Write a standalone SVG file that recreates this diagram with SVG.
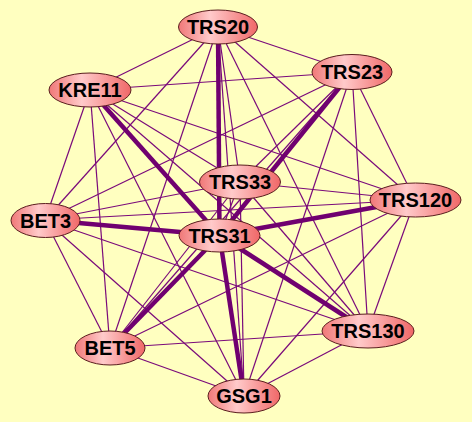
<svg xmlns="http://www.w3.org/2000/svg" width="472" height="422" viewBox="0 0 472 422">
<defs>
<linearGradient id="g" x1="0" y1="0" x2="1" y2="0">
<stop offset="0" stop-color="#f07878"/>
<stop offset="0.4" stop-color="#ffcaca"/>
<stop offset="1" stop-color="#f06868"/>
</linearGradient>
<style>
.e{stroke:#7a0a7a;stroke-width:1.2;fill:none}
.t{stroke:#700070;stroke-width:4.5;fill:none}
.n ellipse{fill:url(#g);stroke:#5a1e1e;stroke-width:1}
.n text{font-family:"Liberation Sans",Arial,sans-serif;font-weight:bold;font-size:20px;text-anchor:middle;fill:#000}
</style>
</defs>
<rect width="472" height="422" fill="#ffffc0"/>
<g id="edges">
<!-- thin edges (complete graph) -->
<line class="e" x1="218" y1="27" x2="352" y2="72"/>
<line class="e" x1="218" y1="27" x2="90" y2="90"/>
<line class="e" x1="218" y1="27" x2="240" y2="182"/>
<line class="e" x1="218" y1="27" x2="415" y2="200"/>
<line class="e" x1="218" y1="27" x2="45" y2="220"/>
<line class="e" x1="218" y1="27" x2="110" y2="348"/>
<line class="e" x1="218" y1="27" x2="368" y2="331"/>
<line class="e" x1="218" y1="27" x2="244" y2="396"/>
<line class="e" x1="352" y1="72" x2="90" y2="90"/>
<line class="e" x1="352" y1="72" x2="240" y2="182"/>
<line class="e" x1="352" y1="72" x2="415" y2="200"/>
<line class="e" x1="352" y1="72" x2="45" y2="220"/>
<line class="e" x1="352" y1="72" x2="110" y2="348"/>
<line class="e" x1="352" y1="72" x2="368" y2="331"/>
<line class="e" x1="352" y1="72" x2="244" y2="396"/>
<line class="e" x1="90" y1="90" x2="240" y2="182"/>
<line class="e" x1="90" y1="90" x2="415" y2="200"/>
<line class="e" x1="90" y1="90" x2="45" y2="220"/>
<line class="e" x1="90" y1="90" x2="110" y2="348"/>
<line class="e" x1="90" y1="90" x2="368" y2="331"/>
<line class="e" x1="90" y1="90" x2="244" y2="396"/>
<line class="e" x1="240" y1="182" x2="415" y2="200"/>
<line class="e" x1="240" y1="182" x2="45" y2="220"/>
<line class="e" x1="240" y1="182" x2="110" y2="348"/>
<line class="e" x1="240" y1="182" x2="368" y2="331"/>
<line class="e" x1="240" y1="182" x2="244" y2="396"/>
<line class="e" x1="240" y1="182" x2="219.5" y2="235.5"/>
<line class="e" x1="415" y1="200" x2="45" y2="220"/>
<line class="e" x1="415" y1="200" x2="110" y2="348"/>
<line class="e" x1="415" y1="200" x2="368" y2="331"/>
<line class="e" x1="415" y1="200" x2="244" y2="396"/>
<line class="e" x1="45" y1="220" x2="110" y2="348"/>
<line class="e" x1="45" y1="220" x2="368" y2="331"/>
<line class="e" x1="45" y1="220" x2="244" y2="396"/>
<line class="e" x1="110" y1="348" x2="368" y2="331"/>
<line class="e" x1="110" y1="348" x2="244" y2="396"/>
<line class="e" x1="368" y1="331" x2="244" y2="396"/>
<!-- thick edges to TRS31 -->
<line class="t" x1="219.5" y1="235.5" x2="218" y2="27"/>
<line class="t" x1="219.5" y1="235.5" x2="352" y2="72"/>
<line class="t" x1="219.5" y1="235.5" x2="90" y2="90"/>
<line class="t" x1="219.5" y1="235.5" x2="415" y2="200"/>
<line class="t" x1="219.5" y1="235.5" x2="45" y2="220"/>
<line class="t" x1="219.5" y1="235.5" x2="110" y2="348"/>
<line class="t" x1="219.5" y1="235.5" x2="368" y2="331"/>
<line class="t" x1="219.5" y1="235.5" x2="244" y2="396"/>
</g>
<g id="TRS20" class="n"><ellipse cx="218" cy="27" rx="39.5" ry="17"/><text x="218" y="34.2">TRS20</text></g>
<g id="TRS23" class="n"><ellipse cx="352" cy="72" rx="40" ry="17.5"/><text x="352" y="79.2">TRS23</text></g>
<g id="KRE11" class="n"><ellipse cx="90" cy="90" rx="41" ry="17"/><text x="90" y="97.2">KRE11</text></g>
<g id="TRS33" class="n"><ellipse cx="240" cy="182" rx="40.5" ry="17"/><text x="240" y="189.2">TRS33</text></g>
<g id="TRS120" class="n"><ellipse cx="415.5" cy="200" rx="45.5" ry="17"/><text x="415.5" y="207.2">TRS120</text></g>
<g id="BET3" class="n"><ellipse cx="45.5" cy="220.5" rx="34.5" ry="17"/><text x="45.5" y="227.7">BET3</text></g>
<g id="TRS31" class="n"><ellipse cx="219.5" cy="235.5" rx="40.5" ry="16.5"/><text x="219.5" y="242.7">TRS31</text></g>
<g id="BET5" class="n"><ellipse cx="110" cy="348" rx="35" ry="17"/><text x="110" y="355.2">BET5</text></g>
<g id="TRS130" class="n"><ellipse cx="368" cy="331" rx="46" ry="17"/><text x="368" y="338.2">TRS130</text></g>
<g id="GSG1" class="n"><ellipse cx="244" cy="396" rx="36" ry="17"/><text x="244" y="403.2">GSG1</text></g>
</svg>
